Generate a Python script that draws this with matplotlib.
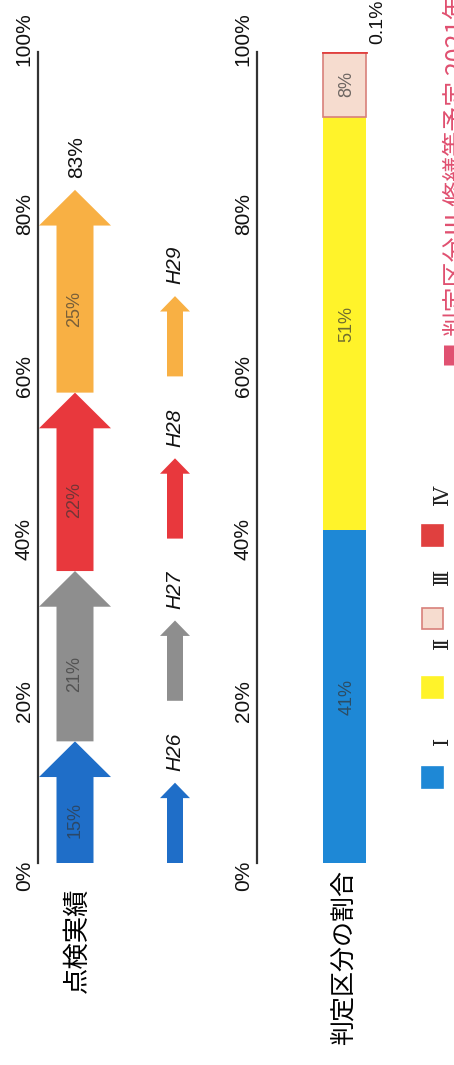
import matplotlib
matplotlib.use('Agg')
import matplotlib.pyplot as plt
from matplotlib.patches import FancyArrow
from matplotlib.transforms import ScaledTranslation

plt.rcParams['font.family'] = ['Liberation Sans Narrow', 'Liberation Sans', 'Noto Sans CJK JP', 'DejaVu Sans']

# 点検実績 (inspection progress per year)
years = ['H26', 'H27', 'H28', 'H29']
rates = [15, 21, 22, 25]
year_colors = ['#1f6ec8', '#8e8e8e', '#e8383d', '#f8b044']
total_label = '83%'

# 判定区分の割合 (share of grades)
grades = ['Ⅰ', 'Ⅱ', 'Ⅲ', 'Ⅳ']
shares = [41, 51, 8, 0.1]
grade_colors = ['#1e88d6', '#fff32a', '#f6dccf', '#e0403f']
grade_edges = ['#1e88d6', '#fff32a', '#d8807a', '#e0403f']

ticks = [0, 20, 40, 60, 80, 100]

W, H = 454, 1065
y0, y1 = 863, 52  # pixel rows of 0% and 100%

fig = plt.figure(figsize=(W / 100, H / 100), dpi=100)
bottom = (H - y0) / H
height = (y0 - y1) / H
ax1 = fig.add_axes([0, bottom, 230 / W, height])
ax2 = fig.add_axes([230 / W, bottom, 224 / W, height])
ax1.set_xlim(0, 230)
ax2.set_xlim(230, 454)

for ax, xs in ((ax1, 38), (ax2, 257)):
    ax.set_ylim(0, 100)
    ax.patch.set_visible(False)
    for s in ('top', 'right', 'bottom'):
        ax.spines[s].set_visible(False)
    ax.spines['left'].set_position(('data', xs))
    ax.spines['left'].set_color('#333333')
    ax.spines['left'].set_linewidth(1.6)
    ax.set_xticks([])
    ax.set_yticks(ticks)
    ax.set_yticklabels([f'{t}%' for t in ticks], rotation=90, va='center', fontsize=15)
    ax.tick_params(axis='y', length=0, pad=3, colors='#111111')
    # end labels sit a little outside the axis ends
    tk = ax.yaxis.get_major_ticks()
    for t, dy in ((tk[0], -0.13), (tk[-1], 0.13)):
        t.label1.set_transform(t.label1.get_transform() + ScaledTranslation(0, dy, fig.dpi_scale_trans))

# big arrows, one per year, stacked
start = 0
for yr, v, c in zip(years, rates, year_colors):
    ax1.add_patch(FancyArrow(75, start, 0, v, width=37, head_width=72, head_length=4.4,
                             length_includes_head=True, color=c, lw=0))
    ax1.text(75, start + (v - 4.4) / 2, f'{v}%', rotation=90, ha='center', va='center',
             fontsize=13, color='#333333', alpha=0.65)
    start += v
ax1.text(77, start + 1.5, total_label, rotation=90, ha='center', va='bottom', fontsize=15,
         color='#111111')

# legend arrows
leg_base = [0, 20, 40, 60]
for yr, c, b in zip(years, year_colors, leg_base):
    ax1.add_patch(FancyArrow(175, b, 0, 9.9, width=16, head_width=30, head_length=1.9,
                             length_includes_head=True, color=c, lw=0))
    ax1.text(175, b + 13.7, yr, rotation=90, ha='center', va='center', fontsize=15,
             style='italic', color='#111111')

ax1.text(77, -9.5, '点検実績', rotation=90, ha='center', va='center', fontsize=19,
         family=['Noto Sans CJK JP'], clip_on=False)

# stacked grade bar
cum = 0
for g, v, c, e in zip(grades, shares, grade_colors, grade_edges):
    lw = 2 if v < 1 else (1.2 if e != c else 0)
    ax2.bar(344.5, v, width=43, bottom=cum, color=c, edgecolor=e, linewidth=lw)
    if v >= 1:
        ax2.text(347, cum + v / 2, f'{v:g}%', rotation=90, ha='center', va='center',
                 fontsize=13, color='#333333', alpha=0.7)
    cum += v
ax2.text(378, 101, f'{shares[-1]:g}%', rotation=90, ha='center', va='bottom', fontsize=14,
         color='#111111', clip_on=False)

ax2.text(345, -11.7, '判定区分の割合', rotation=90, ha='center', va='center', fontsize=18,
         family=['Noto Sans CJK JP'], clip_on=False)

# legend squares
sq_y = [10.5, 21.6, 30.1, 40.4]
lab_y = [15.0, 27.1, 35.3, 45.4]
for g, c, e, sy, ly in zip(grades, grade_colors, grade_edges, sq_y, lab_y):
    ax2.bar(432.5, 2.6, width=21, bottom=sy - 1.3, color=c, edgecolor=e, linewidth=1.2)
    ax2.text(442, ly, g, rotation=90, ha='center', va='center', fontsize=15,
             family=['DejaVu Serif', 'Noto Sans CJK JP'], color='#222222')

# red note at the page edge (cut off by the page in the original)
ax2.text(444, 61.2, '■ 判定区分Ⅲ 修繕等予定 2021年', rotation=90, ha='left', va='bottom',
         fontsize=18, color='#e05070', family=['Noto Sans CJK JP'], clip_on=False)

fig.savefig('out.png', dpi=100)
